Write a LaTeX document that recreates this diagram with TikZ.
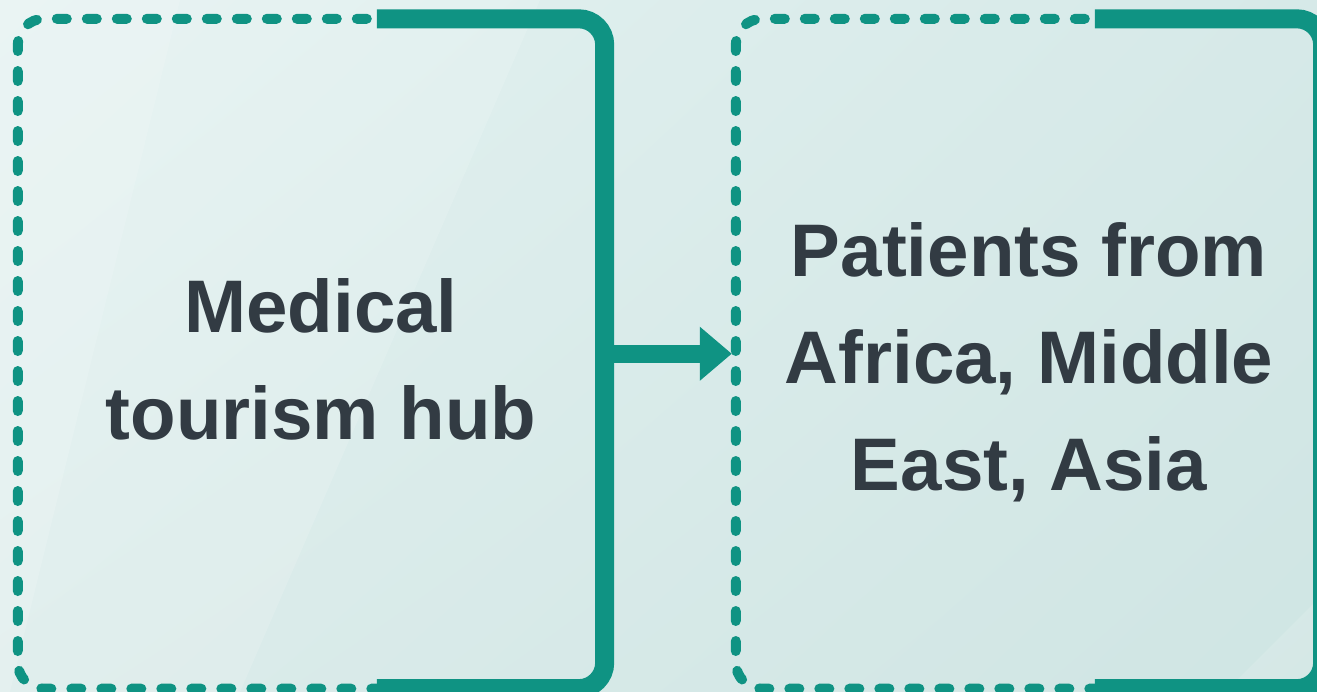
\documentclass[tikz,border=0pt]{standalone}
\usepackage{fontspec}
\setmainfont{Liberation Sans}
\usetikzlibrary{arrows.meta,calc,shadings}
\definecolor{tealline}{HTML}{0F9383}
\definecolor{ink}{HTML}{323B43}
\definecolor{bgA}{HTML}{E4F2F1}
\definecolor{bgB}{HTML}{D6E9E8}
\definecolor{bgC}{HTML}{DCECEB}
\definecolor{bgD}{HTML}{CFE5E3}
\begin{document}
\begin{tikzpicture}[x=1pt,y=-1pt,
  boxarea/.style={draw=none,inner sep=0pt,minimum width=586.5pt,minimum height=669.5pt},
  solidpart/.style={draw=tealline,line width=19pt,line cap=butt,rounded corners=26pt},
  dashpart/.style={draw=tealline,line width=10pt,line cap=round,dash pattern=on 10pt off 20pt,dash phase=20pt,rounded corners=26pt},
  boxtext/.style={font=\bfseries\fontsize{74.5}{107}\selectfont,text=ink,align=center,inner sep=0pt},
  flow/.style={draw=tealline,line width=18pt,-{Triangle[length=32pt,width=52pt]}},
  glow/.style={fill=white,opacity=0.14,draw=none}]
\useasboundingbox (0,0) rectangle (1317,692);
\shade[upper left=bgA,upper right=bgB,lower left=bgC,lower right=bgD] (0,0) rectangle (1317,692);
\fill[glow] (0,0) -- (540,0) -- (240,692) -- (0,692) -- cycle;
\fill[glow] (0,0) -- (180,0) -- (10,692) -- (0,692) -- cycle;
\fill[glow] (1317,600) -- (1317,692) -- (1225,692) -- cycle;
% box areas
\node[boxarea] (hub) at (311.25,353.75) {};
\node[boxarea] (pat) at (1029.25,353.75) {};
% borders
\draw[dashpart] ([xshift=359pt]hub.north west) -- (hub.north west) -- (hub.south west) -- ([xshift=359pt]hub.south west);
\draw[solidpart] ([xshift=359pt]hub.north west) -- (hub.north east) -- (hub.south east) -- ([xshift=359pt]hub.south west);
\draw[dashpart] ([xshift=359pt]pat.north west) -- (pat.north west) -- (pat.south west) -- ([xshift=359pt]pat.south west);
\draw[solidpart] ([xshift=359pt]pat.north west) -- (pat.north east) -- (pat.south east) -- ([xshift=359pt]pat.south west);
% texts
\node[boxtext] (hubtxt) at (321,359) {Medical\\tourism hub};
\node[boxtext] (pattxt) at (1029,362) {Patients from\\Africa, Middle\\East, Asia};
% connector
\draw[flow,shorten >=4pt] (hub.east) -- (pat.west);
\end{tikzpicture}
\end{document}
